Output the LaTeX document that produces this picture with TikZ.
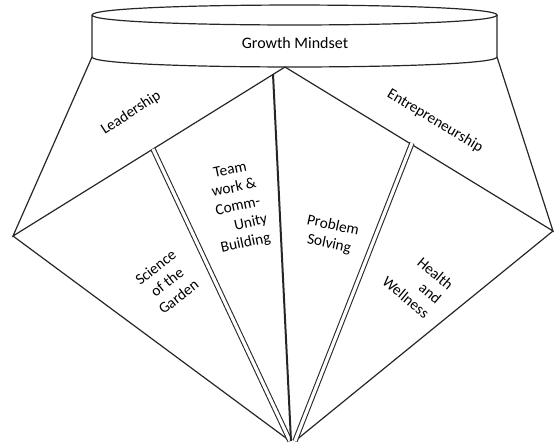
\documentclass[tikz,border=0pt]{standalone}
\usepackage{fontspec}
\setmainfont{Carlito}
\begin{document}
\begin{tikzpicture}[x=0.75pt,y=-0.75pt,
  edge/.style={draw=black!85,line width=0.9pt},
  dbl/.style={draw=black!85,line width=0.8pt,double=white,double distance=2.4pt},
  thk/.style={draw=black!85,line width=1.5pt},
  lbl/.style={font=\fontsize{11.5}{14}\selectfont,inner sep=0pt,align=center}]
\useasboundingbox (0,0) rectangle (554,444);
% cylinder
\draw[edge] (92,15) .. controls (92,1.7) and (497,1.7) .. (497,15)
            .. controls (497,28.3) and (92,28.3) .. (92,15);
\draw[edge] (92,15) -- (92,57) .. controls (92,70.3) and (497,70.3) .. (497,57) -- (497,15);
\node[lbl,font=\fontsize{12}{14}\selectfont] (gm) at (295,43) {Growth Mindset};
% points
\coordinate (cl) at (92,57);
\coordinate (cr) at (497,57);
\coordinate (T) at (285,67);
\coordinate (L) at (13,236);
\coordinate (R) at (553,231);
\coordinate (Bl) at (290,441);
\coordinate (Br) at (295,441);
\coordinate (Bm) at (291,441);
\coordinate (ml) at (153,149);
\coordinate (mr) at (412,143);
\coordinate (vt) at (273,74);
% lines
\draw[edge] (cl) -- (L) -- (T) -- (R) -- (cr);
\draw[edge] (L) -- (Bl);
\draw[edge] (R) -- (Br);
\draw[dbl] (ml) -- (Bl);
\draw[dbl] (mr) -- (Br);
\draw[thk] (vt) -- (Bm);
% labels
\node[lbl,rotate=33] (lead) at (131,113) {Leadership};
\node[lbl,rotate=-31] (entr) at (435,121) {Entrepreneurship};
\node[lbl,rotate=12] (team) at (238,207) {Team\\work \&\\Comm-\\\hspace{1.2em}Unity\\Building};
\node[lbl,rotate=38] (sci) at (167,282) {Science\\of the\\Garden};
\node[lbl,rotate=-12] (prob) at (331,235) {Problem\\Solving};
\node[lbl,rotate=-40,align=right] (hw) at (418,283) {Health\\and\\Wellness};
\end{tikzpicture}
\end{document}
